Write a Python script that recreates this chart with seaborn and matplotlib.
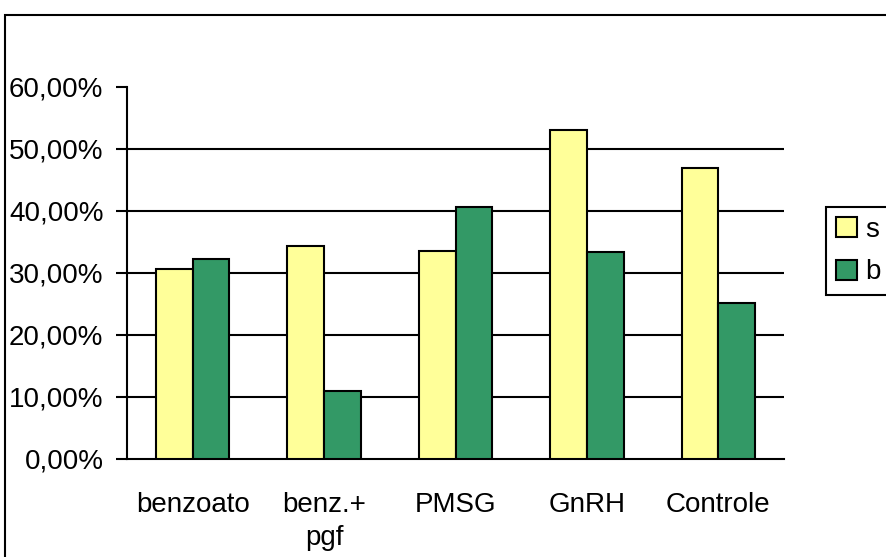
import numpy as np
import pandas as pd
import matplotlib
matplotlib.use("Agg")
import matplotlib.pyplot as plt
from matplotlib.patches import Rectangle
import seaborn as sns

grupos = ['benzoato', 'benz.+\npgf', 'PMSG', 'GnRH', 'Controle']
serie_s = [0.306, 0.344, 0.335, 0.531, 0.470]
serie_b = [0.322, 0.110, 0.406, 0.334, 0.251]
series = ['s', 'b']
cores = ['#FFFF99', '#339966']
yticks = [0.0, 0.1, 0.2, 0.3, 0.4, 0.5, 0.6]
ytick_labels = ['0,00%', '10,00%', '20,00%', '30,00%', '40,00%', '50,00%', '60,00%']

df = pd.DataFrame({
    'grupo': grupos * 2,
    'valor': serie_s + serie_b,
    'serie': ['s'] * len(grupos) + ['b'] * len(grupos),
})

sns.set_style('white')
plt.rcParams['font.family'] = ['Liberation Sans', 'DejaVu Sans']
plt.rcParams['font.size'] = 20
plt.rcParams['text.color'] = 'black'
plt.rcParams['xtick.color'] = 'black'
plt.rcParams['ytick.color'] = 'black'

fig = plt.figure(figsize=(8.86, 5.57), dpi=100)
ax = fig.add_axes([127 / 886, 1 - 459 / 557, (784 - 127) / 886, (459 - 87) / 557])

sns.barplot(data=df, x='grupo', y='valor', hue='serie', hue_order=series,
            palette=cores, saturation=1, width=0.56, edgecolor='black',
            linewidth=1.5, errorbar=None, ax=ax, zorder=3)

ax.set_ylim(0, 0.6)
ax.set_xlim(-0.5, len(grupos) - 0.5)
ax.set_yticks(yticks)
ax.set_yticklabels(ytick_labels)
ax.set_xticks(np.arange(len(grupos)))
ax.set_xticklabels(grupos, linespacing=1.35)
ax.set_xticks(np.arange(len(grupos) + 1) - 0.5, minor=True)
ax.tick_params(axis='x', which='major', length=0, pad=24, labelsize=20)
ax.tick_params(axis='x', which='minor', length=8, width=1.5, direction='out')
ax.tick_params(axis='y', length=8, width=1.5, direction='out', pad=9, left=True, labelsize=20)
ax.set_xlabel('')
ax.set_ylabel('')

# linhas de grade horizontais (sem a de 60%)
for v in yticks[1:-1]:
    ax.axhline(v, color='black', lw=1.5, zorder=1)

for lado in ['top', 'right']:
    ax.spines[lado].set_visible(False)
for lado in ['left', 'bottom']:
    ax.spines[lado].set_color('black')
    ax.spines[lado].set_linewidth(1.5)

leg = ax.legend(loc='upper left', bbox_to_anchor=(826 / 886, 1 - 207 / 557),
                bbox_transform=fig.transFigure, frameon=True, fancybox=False,
                framealpha=1, handlelength=0.75, handleheight=0.75,
                handletextpad=0.3, labelspacing=0.6, borderpad=0.35,
                borderaxespad=0, fontsize=20)
leg.get_frame().set_edgecolor('black')
leg.get_frame().set_linewidth(1.5)

# moldura da figura
fig.patches.append(Rectangle((5 / 886, -0.1), 2, 1 - 15 / 557 + 0.1,
                             transform=fig.transFigure, fill=False,
                             edgecolor='black', linewidth=1.5))

fig.savefig('out.png', dpi=100)
